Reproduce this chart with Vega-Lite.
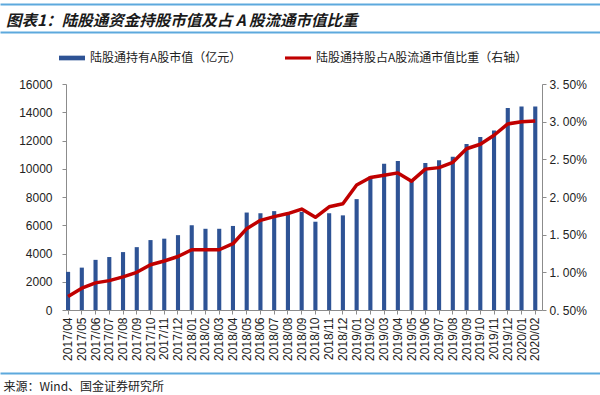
{
  "$schema": "https://vega.github.io/schema/vega-lite/v6.json",
  "width": 476,
  "height": 226,
  "autosize": {"type": "none"},
  "padding": {"left": 66, "top": 84, "right": 58, "bottom": 85},
  "background": "white",
  "title": {
    "text": "图表1：陆股通资金持股市值及占 A 股流通市值比重",
    "anchor": "start",
    "frame": "bounds",
    "font": "Noto Sans CJK SC",
    "fontSize": 15.5,
    "fontWeight": "bold",
    "fontStyle": "italic",
    "color": "#1a1a1a",
    "offset": 0,
    "dx": 3,
    "dy": 25
  },
  "config": {
    "view": {"stroke": null},
    "axis": {
      "labelFont": "Liberation Sans",
      "labelFontSize": 12,
      "labelColor": "#222222",
      "domainColor": "#8c8c8c",
      "tickColor": "#8c8c8c",
      "grid": false
    }
  },
  "data": {
    "values": [
      {"month": "2017/04", "value": 2700, "ratio": 0.68},
      {"month": "2017/05", "value": 3000, "ratio": 0.79},
      {"month": "2017/06", "value": 3550, "ratio": 0.86},
      {"month": "2017/07", "value": 3750, "ratio": 0.89},
      {"month": "2017/08", "value": 4100, "ratio": 0.94},
      {"month": "2017/09", "value": 4450, "ratio": 1.00},
      {"month": "2017/10", "value": 4950, "ratio": 1.10},
      {"month": "2017/11", "value": 5050, "ratio": 1.15},
      {"month": "2017/12", "value": 5300, "ratio": 1.21},
      {"month": "2018/01", "value": 6000, "ratio": 1.30},
      {"month": "2018/02", "value": 5750, "ratio": 1.30},
      {"month": "2018/03", "value": 5750, "ratio": 1.30},
      {"month": "2018/04", "value": 5950, "ratio": 1.38},
      {"month": "2018/05", "value": 6900, "ratio": 1.58},
      {"month": "2018/06", "value": 6850, "ratio": 1.69},
      {"month": "2018/07", "value": 7000, "ratio": 1.74},
      {"month": "2018/08", "value": 6850, "ratio": 1.78},
      {"month": "2018/09", "value": 6950, "ratio": 1.84},
      {"month": "2018/10", "value": 6250, "ratio": 1.73},
      {"month": "2018/11", "value": 6850, "ratio": 1.87},
      {"month": "2018/12", "value": 6700, "ratio": 1.91},
      {"month": "2019/01", "value": 7850, "ratio": 2.16},
      {"month": "2019/02", "value": 9450, "ratio": 2.26},
      {"month": "2019/03", "value": 10350, "ratio": 2.29},
      {"month": "2019/04", "value": 10550, "ratio": 2.32},
      {"month": "2019/05", "value": 9200, "ratio": 2.21},
      {"month": "2019/06", "value": 10400, "ratio": 2.37},
      {"month": "2019/07", "value": 10600, "ratio": 2.39},
      {"month": "2019/08", "value": 10850, "ratio": 2.46},
      {"month": "2019/09", "value": 11750, "ratio": 2.64},
      {"month": "2019/10", "value": 12250, "ratio": 2.70},
      {"month": "2019/11", "value": 12700, "ratio": 2.82},
      {"month": "2019/12", "value": 14300, "ratio": 2.97},
      {"month": "2020/01", "value": 14400, "ratio": 3.00},
      {"month": "2020/02", "value": 14400, "ratio": 3.01}
    ]
  },
  "layer": [
    {
      "mark": {"type": "bar"},
      "encoding": {
        "x": {
          "field": "month", "type": "ordinal", "sort": null,
          "scale": {"type": "band", "paddingInner": 0.7, "paddingOuter": 0.17, "align": 0},
          "axis": {
            "title": null, "labelAngle": -90, "labelAlign": "right", "labelBaseline": "middle",
            "bandPosition": 0.5, "tickSize": 4, "labelPadding": 3
          }
        },
        "y": {
          "field": "value", "type": "quantitative",
          "scale": {"domain": [0, 16000]},
          "axis": {
            "orient": "left", "title": null, "format": "d", "tickSize": 4, "labelPadding": 10,
            "values": [0, 2000, 4000, 6000, 8000, 10000, 12000, 14000, 16000]
          }
        },
        "color": {
          "datum": "陆股通持有A股市值（亿元）", "type": "nominal",
          "scale": {
            "domain": ["陆股通持有A股市值（亿元）", "陆股通持股占A股流通市值比重（右轴）"],
            "range": ["#2E5395", "#C00000"]
          },
          "legend": {
            "title": null, "orient": "none", "legendX": -7, "legendY": -39,
            "direction": "horizontal", "columns": 2, "columnPadding": 43,
            "labelFont": "Noto Sans CJK SC", "labelFontSize": 12, "labelColor": "#222222",
            "labelLimit": 400, "labelOffset": 5,
            "symbolSize": 676,
            "symbolType": "M-1,-0.16H1V0.16H-1Z",
            "encode": {
              "symbols": {
                "update": {
                  "fill": {"scale": "color", "field": "value"},
                  "stroke": {"value": "transparent"},
                  "strokeWidth": {"value": 0},
                  "shape": {"signal": "datum.value === '陆股通持有A股市值（亿元）' ? 'M-1,-0.18H1V0.18H-1Z' : 'M-1,-0.12H1V0.12H-1Z'"}
                }
              }
            }
          }
        }
      }
    },
    {
      "mark": {"type": "line", "strokeWidth": 3.5, "strokeJoin": "round"},
      "encoding": {
        "x": {
          "field": "month", "type": "ordinal", "sort": null,
          "scale": {"type": "band", "paddingInner": 0.7, "paddingOuter": 0.17, "align": 0},
          "axis": null
        },
        "y": {
          "field": "ratio", "type": "quantitative",
          "scale": {"domain": [0.5, 3.5]},
          "axis": {
            "orient": "right", "title": null, "tickSize": 4, "labelPadding": 3,
            "values": [0.5, 1, 1.5, 2, 2.5, 3, 3.5],
            "labelExpr": "replace(format(datum.value, '.2f'), '.', '. ') + '%'"
          }
        },
        "color": {"datum": "陆股通持股占A股流通市值比重（右轴）", "type": "nominal"}
      }
    },
    {
      "mark": {"type": "point", "opacity": 0},
      "encoding": {
        "x": {
          "field": "month", "type": "ordinal", "sort": null,
          "scale": {"type": "point", "range": [-66, 534]},
          "axis": {
            "orient": "top", "offset": 52, "labels": false, "ticks": false,
            "domainColor": "#5DA9DD", "domainWidth": 2, "title": null
          }
        }
      }
    },
    {
      "mark": {"type": "point", "opacity": 0},
      "encoding": {
        "x": {
          "field": "month", "type": "ordinal", "sort": null,
          "scale": {"type": "point", "range": [-66, 534]},
          "axis": {
            "orient": "top", "offset": 80, "labels": false, "ticks": false,
            "domainColor": "#5DA9DD", "domainWidth": 2, "title": null
          }
        }
      }
    },
    {
      "mark": {"type": "point", "opacity": 0},
      "encoding": {
        "x": {
          "field": "month", "type": "ordinal", "sort": null,
          "scale": {"type": "point", "range": [-66, 534]},
          "axis": {
            "orient": "bottom", "offset": 63, "labels": false, "ticks": false,
            "domainColor": "#5DA9DD", "domainWidth": 2,
            "title": "来源：Wind、国金证券研究所",
            "titleFont": "Noto Sans CJK SC", "titleFontSize": 12, "titleFontWeight": "normal",
            "titleColor": "#222222", "titleX": -63, "titleY": 13, "titleAlign": "left",
            "titleBaseline": "middle", "titleAngle": 0
          }
        }
      }
    }
  ],
  "resolve": {"scale": {"x": "independent", "y": "independent"}}
}
